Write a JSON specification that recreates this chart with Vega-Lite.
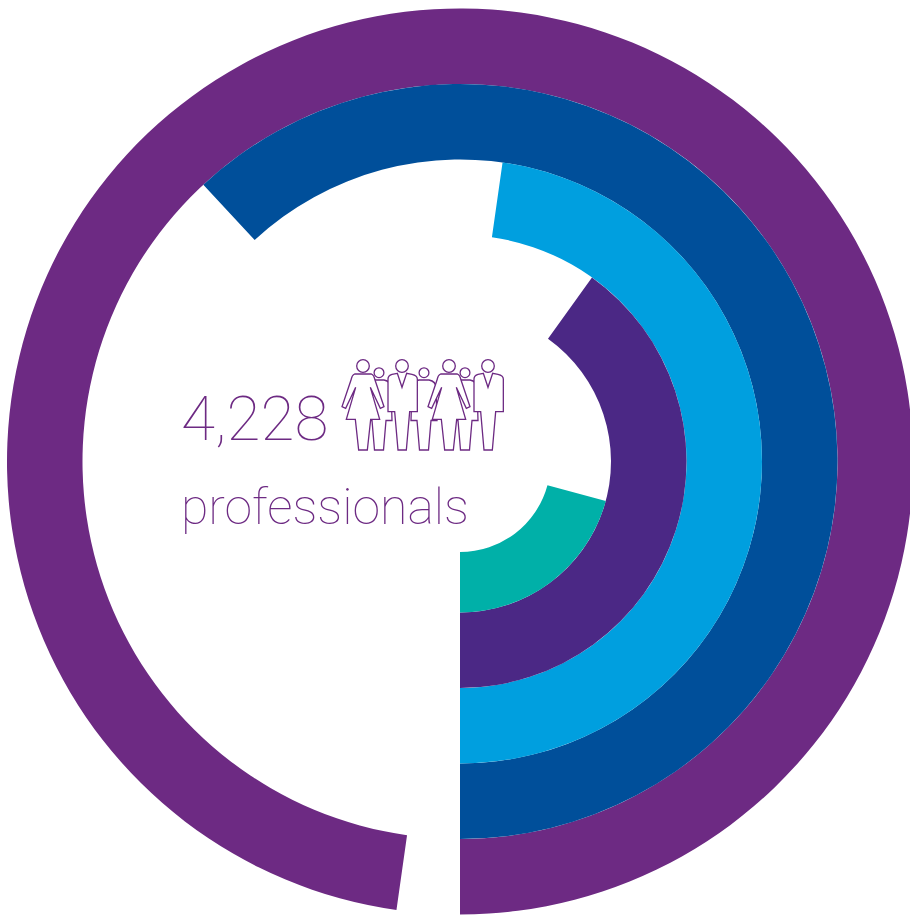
{
  "$schema": "https://vega.github.io/schema/vega-lite/v6.json",
  "width": 910,
  "height": 918,
  "autosize": {"type": "fit", "contains": "padding"},
  "padding": {"left": 10, "top": 5, "right": 0, "bottom": 0},
  "background": "#ffffff",
  "config": {"view": {"stroke": null}},
  "layer": [
    {
      "data": {"values": [
        {"ring": "outermost", "start": 0, "share": 97.76, "inner": 5, "outer": 6},
        {"ring": "fourth", "start": 0, "share": 61.9, "inner": 4, "outer": 5},
        {"ring": "third", "start": 0, "share": 47.75, "inner": 3, "outer": 4},
        {"ring": "second", "start": 0, "share": 40.1, "inner": 2, "outer": 3},
        {"ring": "innermost", "start": 0, "share": 20.8, "inner": 1.2, "outer": 2}
      ]},
      "mark": {"type": "arc"},
      "encoding": {
        "theta": {"field": "start", "type": "quantitative", "scale": {"domain": [0, 100], "range": [3.14159265, -3.14159265]}},
        "theta2": {"field": "share"},
        "radius": {"field": "inner", "type": "quantitative", "scale": {"type": "linear", "domain": [0, 6], "range": [0, 453]}},
        "radius2": {"field": "outer"},
        "color": {
          "field": "ring",
          "type": "nominal",
          "legend": null,
          "scale": {
            "domain": ["outermost", "fourth", "third", "second", "innermost"],
            "range": ["#6d2a83", "#004f9a", "#009fdf", "#4b2885", "#00b0a8"]
          }
        }
      }
    },
    {
      "data": {"values": [{"headline": "4,228"}]},
      "mark": {"type": "text", "font": "Roboto", "fontWeight": 100, "fontSize": 62, "align": "left", "baseline": "alphabetic", "dx": -279, "dy": -22, "color": "#6d2a83"},
      "encoding": {"text": {"field": "headline", "type": "nominal"}}
    },
    {
      "data": {"values": [{"caption": "professionals"}]},
      "mark": {"type": "text", "font": "Roboto", "fontWeight": 100, "fontSize": 50, "align": "left", "baseline": "alphabetic", "dx": -279, "dy": 62, "color": "#6d2a83"},
      "encoding": {"text": {"field": "caption", "type": "nominal"}}
    },
    {
      "data": {"values": [
        {"person": "child a", "kind": "child", "across": 16},
        {"person": "child b", "kind": "child", "across": 61},
        {"person": "child c", "kind": "child", "across": 102},
        {"person": "woman a", "kind": "woman", "across": 0},
        {"person": "man a", "kind": "man", "across": 39},
        {"person": "woman b", "kind": "woman", "across": 86},
        {"person": "man b", "kind": "man", "across": 125}
      ]},
      "mark": {"type": "point", "filled": true, "size": 4, "fill": "#ffffff", "stroke": "#6d2a83", "strokeWidth": 1.3, "opacity": 1},
      "encoding": {
        "x": {"field": "across", "type": "quantitative", "axis": null, "scale": {"domain": [0, 125], "range": [353, 478]}},
        "shape": {
          "field": "kind",
          "type": "nominal",
          "legend": null,
          "scale": {
            "domain": ["woman", "man", "child"],
            "range": [
              "M-8.33,-87.5 L8.33,-87.5 Q11,-86.5,11.67,-82.5 L21,-54.83 L17.33,-53.17 L7.33,-74.17 L16.67,-42.17 L7.67,-42.17 L4.33,-11.5 L-4.33,-11.5 L-7.67,-42.17 L-16.67,-42.17 L-7.33,-74.17 L-17.33,-53.17 L-21,-54.83 L-11.67,-82.5 Q-11,-86.5,-8.33,-87.5 Z M-6.3,-95.5 a6.3,6.3 0 1,0 12.6,0 a6.3,6.3 0 1,0 -12.6,0 Z",
              "M-4.67,-88.17 L-10,-87.17 Q-14,-86,-14,-82.5 L-14,-49.83 L-7.33,-49.83 L-4,-11.5 L4.33,-11.5 L7.67,-49.83 L15.33,-49.83 L15.33,-82.5 Q15.33,-86,10,-87.17 L4.67,-88.17 L0,-74.17 Z M-6.3,-95.5 a6.3,6.3 0 1,0 12.6,0 a6.3,6.3 0 1,0 -12.6,0 Z",
              "M-5,-81.5 L5,-81.5 Q12,-80,12,-74 L13,-41 L7,-41 L4.5,-11.5 L-4.5,-11.5 L-7,-41 L-13,-41 L-12,-74 Q-12,-80,-5,-81.5 Z M-4.9,-88.8 a4.9,4.9 0 1,0 9.8,0 a4.9,4.9 0 1,0 -9.8,0 Z"
            ]
          }
        }
      }
    }
  ],
  "resolve": {"scale": {"color": "independent", "shape": "independent", "x": "independent"}}
}
